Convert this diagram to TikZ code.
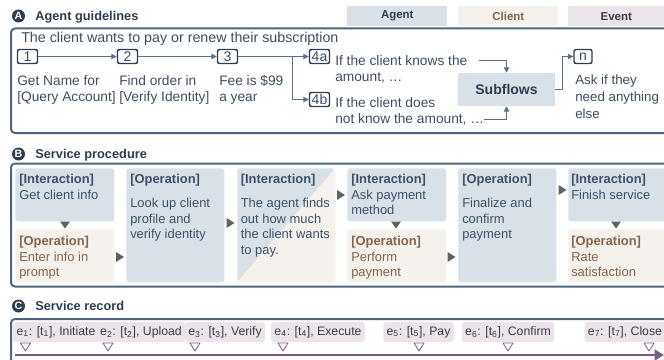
\documentclass[tikz,border=0pt]{standalone}
\usepackage{fontspec}
\setmainfont{Liberation Sans}
\usetikzlibrary{arrows.meta,calc}
\definecolor{framec}{HTML}{4E6582}
\definecolor{agentc}{HTML}{D8E1E8}
\definecolor{clientc}{HTML}{F5F1ED}
\definecolor{eventc}{HTML}{EBE4EB}
\definecolor{dk}{HTML}{2E3D4F}
\definecolor{txtc}{HTML}{3E4E60}
\definecolor{agtxt}{HTML}{3E5068}
\definecolor{cltxt}{HTML}{85654B}
\definecolor{evtxt}{HTML}{3F3A46}
\definecolor{linkc}{HTML}{56708E}
\definecolor{tric}{HTML}{5E6166}
\definecolor{tlc}{HTML}{7D5A86}
\def\u{0.75pt}
\newcommand\tridown[2]{\fill[tric] ({#1-5},#2) -- ({#1+5},#2) -- (#1,{#2+7}) -- cycle;}
\newcommand\triright[2]{\fill[tric] (#1,{#2-5}) -- (#1,{#2+5}) -- ({#1+8},#2) -- cycle;}
\newcommand\evmark[1]{\draw[tlc, line width=0.6pt, fill=white, line join=round] ({#1-5},343) -- ({#1+5},343) -- (#1,351) -- cycle;}
\tikzset{
  fsA/.style={font=\fontsize{10.3}{12.5}\selectfont},
  fsB/.style={font=\fontsize{9.7}{11.6}\selectfont},
  badge/.style={circle, fill=dk, text=white, inner sep=0pt, minimum size=13*\u, font=\fontsize{8}{8}\selectfont\bfseries},
  sectitle/.style={anchor=base west, inner sep=0pt, text=dk, font=\fontsize{9.6}{10}\selectfont\bfseries},
  legbox/.style={inner sep=0pt, minimum height=20*\u, anchor=north west, font=\fontsize{8.6}{9}\selectfont\bfseries},
  frameline/.style={draw=framec, line width=1.5pt, rounded corners=3pt},
  stepnum/.style={draw=dk, line width=1.1pt, rounded corners=1.5pt, inner sep=0pt, minimum width=20*\u, minimum height=14*\u, text=txtc, font=\fontsize{10.5}{10}\selectfont},
  link/.style={draw=linkc, line width=0.7pt, -{Triangle[length=4pt,width=4pt]}},
  plain/.style={anchor=base west, inner sep=0pt, align=left, text=txtc, fsA},
  boxn/.style={anchor=north west, inner sep=0pt, rounded corners=2pt},
  btxt/.style={anchor=base west, inner sep=0pt, align=left, fsB},
  evbox/.style={fill=eventc, rounded corners=2pt, inner xsep=2.5pt, inner ysep=0pt, minimum height=20*\u, text=evtxt, font=\fontsize{9.2}{10}\selectfont}
}
\begin{document}
\begin{tikzpicture}[x=0.75pt,y=-0.75pt]
\useasboundingbox (0,0) rectangle (664,360);

% ---------- Section A ----------
\node[badge] (bA) at (18.5,16) {A};
\node[sectitle] (tA) at (35,20.5) {Agent guidelines};
\node[legbox, fill=agentc, text=dk, minimum width=100*\u] (lgA) at (347,6) {Agent};
\node[legbox, fill=clientc, text=cltxt, minimum width=100*\u] (lgC) at (458,6) {Client};
\node[legbox, fill=eventc, text=evtxt, minimum width=96*\u] (lgE) at (568,6) {Event};

\draw[frameline] (664,28.5) -- (11,28.5) -- (11,133) -- (664,133);

\node[plain, font=\fontsize{10.7}{12.5}\selectfont] (intro) at (21,43) {The client wants to pay or renew their subscription};

\node[stepnum] (s1) at (27.5,56.5) {1};
\node[stepnum] (s2) at (127.5,56.5) {2};
\node[stepnum] (s3) at (227.5,56.5) {3};
\node[stepnum] (s4a) at (319.5,56.5) {4a};
\node[stepnum] (s4b) at (319.5,99.5) {4b};
\node[stepnum, minimum width=18*\u] (sn) at (583,56.5) {n};

\draw[link] (s1) -- (s2);
\draw[link] (s2) -- (s3);
\draw[link] (s3) -- (s4a);
\coordinate (br) at (292,56.5);
\draw[link] (br) |- (s4b);

% base anchor = baseline of the last line
\node[plain] (d1) at (17,101.7) {Get Name for\\{[Query Account]}};
\node[plain] (d2) at (119,101.7) {Find order in\\{[Verify Identity]}};
\node[plain] (d3) at (219,101.7) {Fee is \$99\\a year};

\node[plain] (k1) at (335,81.7) {If the client knows the\\amount, \dots};
\node[plain] (k2) at (335,123.7) {If the client does\\not know the amount, \dots};
\node[fill=agentc, inner sep=0pt, minimum width=97*\u, minimum height=33*\u, text=dk, font=\fontsize{10.5}{11}\selectfont\bfseries] (sub) at (506.5,89.5) {Subflows};
\coordinate (k1e) at (479,60);
\coordinate (k2e) at (484,119);
\draw[link] (k1e) -| (sub.north);
\draw[link] (k2e) -| (sub.south);
\draw[link] (sub.east) -- ++(7,0) |- (sn.west);
\node[plain, font=\fontsize{10}{12.5}\selectfont] (dn) at (575,118.3) {Ask if they\\need anything\\else};

% ---------- Section B ----------
\node[badge] (bB) at (18.5,154) {B};
\node[sectitle] (tB) at (35,158.5) {Service procedure};
\draw[frameline] (664,163.5) -- (11,163.5) -- (11,286.5) -- (664,286.5);

\node[boxn, fill=agentc, minimum width=99*\u, minimum height=53*\u] (i1) at (15,168) {};
\node[boxn, fill=clientc, minimum width=99*\u, minimum height=53*\u] (o1) at (15,229) {};
\node[boxn, fill=agentc, minimum width=98*\u, minimum height=114*\u] (c2) at (126,168) {};
\node[boxn, minimum width=98*\u, minimum height=114*\u,
  path picture={
    \fill[agentc] (path picture bounding box.north west) -- (path picture bounding box.north east) -- (path picture bounding box.south west) -- cycle;
    \fill[clientc] (path picture bounding box.north east) -- (path picture bounding box.south east) -- (path picture bounding box.south west) -- cycle;}] (c3) at (237,168) {};
\node[boxn, fill=agentc, minimum width=99*\u, minimum height=53*\u] (i4) at (347,168) {};
\node[boxn, fill=clientc, minimum width=99*\u, minimum height=53*\u] (o4) at (347,229) {};
\node[boxn, fill=agentc, minimum width=98*\u, minimum height=114*\u] (c5) at (458,168) {};
\node[boxn, fill=agentc, minimum width=110*\u, minimum height=53*\u] (i6) at (568,168) {};
\node[boxn, fill=clientc, minimum width=110*\u, minimum height=53*\u] (o6) at (568,229) {};

\node[btxt, text=agtxt] (ti1) at ($(i1.north west)+(4,31.1)$) {\textbf{[Interaction]}\\Get client info};
\node[btxt, text=cltxt] (to1) at ($(o1.north west)+(4,47.5)$) {\textbf{[Operation]}\\Enter info in\\prompt};
\node[btxt, text=agtxt] (tc2) at ($(c2.north west)+(4,70.5)$) {\textbf{[Operation]}\\[6.4pt]Look up client\\profile and\\verify identity};
\node[btxt, text=agtxt] (tc3) at ($(c3.north west)+(3.5,86)$) {\textbf{[Interaction]}\\[6.4pt]The agent finds\\out how much\\the client wants\\to pay.};
\node[btxt, text=agtxt] (ti4) at ($(i4.north west)+(4,46.5)$) {\textbf{[Interaction]}\\Ask payment\\method};
\node[btxt, text=cltxt] (to4) at ($(o4.north west)+(4,47.5)$) {\textbf{[Operation]}\\Perform\\payment};
\node[btxt, text=agtxt] (tc5) at ($(c5.north west)+(4,70.5)$) {\textbf{[Operation]}\\[6.4pt]Finalize and\\confirm\\payment};
\node[btxt, text=agtxt] (ti6) at ($(i6.north west)+(3,31.1)$) {\textbf{[Interaction]}\\Finish service};
\node[btxt, text=cltxt] (to6) at ($(o6.north west)+(3,47.5)$) {\textbf{[Operation]}\\Rate\\satisfaction};

\tridown{65}{221.5}
\tridown{396}{221.5}
\tridown{616}{221.5}
\triright{116}{257}
\triright{226.5}{223}
\triright{337}{195}
\triright{447.5}{257}
\triright{558.5}{190}

% ---------- Section C ----------
\node[badge] (bC) at (18.5,306) {C};
\node[sectitle] (tC) at (35,310.5) {Service record};
\draw[frameline] (664,319) -- (11,319) -- (11,362);

\node[evbox] (e1) at (56,332) {e\textsubscript{1}: [t\textsubscript{1}], Initiate};
\node[evbox] (e2) at (141,332) {e\textsubscript{2}: [t\textsubscript{2}], Upload};
\node[evbox] (e3) at (225,332) {e\textsubscript{3}: [t\textsubscript{3}], Verify};
\node[evbox] (e4) at (318,332) {e\textsubscript{4}: [t\textsubscript{4}], Execute};
\node[evbox] (e5) at (418.5,332) {e\textsubscript{5}: [t\textsubscript{5}], Pay};
\node[evbox] (e6) at (508,332) {e\textsubscript{6}: [t\textsubscript{6}], Confirm};
\node[evbox] (e7) at (625,332) {e\textsubscript{7}: [t\textsubscript{7}], Close};

\coordinate (tl0) at (15,355);
\coordinate (tl1) at (664,355);
\draw[tlc, line width=2.2pt, -{Triangle[length=7pt,width=8pt]}] (tl0) -- (tl1);
\evmark{25.5}
\evmark{108}
\evmark{195}
\evmark{283}
\evmark{419}
\evmark{508}
\evmark{649}
\end{tikzpicture}
\end{document}
